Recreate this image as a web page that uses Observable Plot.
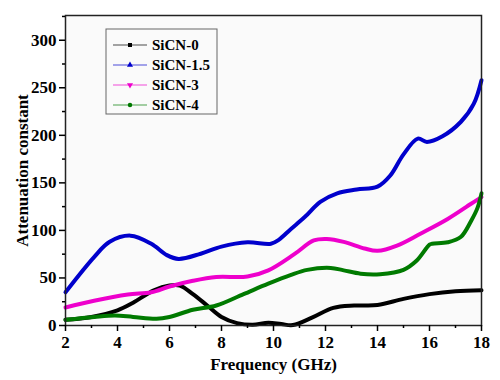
<!DOCTYPE html>
<html><head><meta charset="utf-8">
<script src="https://cdn.jsdelivr.net/npm/d3@7"></script>
<script src="https://cdn.jsdelivr.net/npm/@observablehq/plot@0.6"></script>
<style>
body{margin:0;background:#fff;}
#chart svg{font-family:"Liberation Serif","Times New Roman",serif;font-weight:bold;}
</style>
</head><body><div id="chart"></div>
<script>
const seriesNames = ["SiCN-0","SiCN-1.5","SiCN-3","SiCN-4"];
const seriesColors = ["#000000","#0000cc","#ee00cc","#007a00"];
const seriesSymbols = ["square","triangle","triangle-down","circle"];

const sicn0F = [2,3,4,4.6,5.4,6.0,6.4,6.9,7.45,8.0,8.6,9.2,9.8,10.3,10.75,11.5,12.3,13.1,14.0,15.0,16.0,17.0,18];
const sicn0V = [6,9,16,24,37,42,42,33,21,9,2.5,0.7,2.8,1.5,0.5,8.5,18.5,21,21.5,28,33,36,37];

const sicn15F = [2,3.1,3.7,4.5,5.3,5.9,6.35,7.2,8.0,9.0,9.9,10.2,10.65,11.2,11.8,12.45,13.2,14.0,14.5,15.0,15.55,15.9,16.5,17.2,17.7,18];
const sicn15V = [35,72,88,94.5,86,74,70,75.5,83,87.5,86,90,101,114,130,139,143,146,158,180,196.5,193,199,214,233,258];

const sicn3F = [2,3.1,4.4,5.3,6.0,6.9,7.8,9.0,9.8,10.8,11.55,12.05,12.7,13.5,14.0,14.75,15.65,16.7,17.6,18];
const sicn3V = [19,26,32.5,35,41,47,51,51.5,58,75,89.5,91,88,81,78.5,84,96.5,112,128,135];

const sicn4F = [2,3.1,3.9,4.6,5.5,6.0,6.9,7.8,8.85,9.8,10.65,11.3,12.2,12.7,13.35,14.1,15.0,15.5,16.0,16.1,16.7,17.2,17.6,17.85,18];
const sicn4V = [6,9,10.5,9,7,9,16.5,21,33,44,53,58.5,60.5,58,54.5,54,58.5,68,85,86,87.5,93,110,124,139];

const xMajor = [2,4,6,8,10,12,14,16,18];
const xMinor = [3,5,7,9,11,13,15,17];
const yMajor = [0,50,100,150,200,250,300];
const yMinor = [25,75,125,175,225,275,325];

const allF = [sicn0F, sicn15F, sicn3F, sicn4F];
const allV = [sicn0V, sicn15V, sicn3V, sicn4V];
const data = [];
seriesNames.forEach((s,i)=>allF[i].forEach((f,j)=>data.push({series:s,f,v:allV[i][j]})));

const chart = Plot.plot({
  width:500, height:380,
  marginLeft:65, marginRight:19, marginTop:15, marginBottom:55,
  style:{fontFamily:"Liberation Serif, serif", fontWeight:"bold", fontSize:"16px", background:"transparent", color:"#000"},
  x:{domain:[2,18]},
  y:{domain:[0,326]},
  color:{domain:seriesNames, range:seriesColors},
  marks:[
    Plot.frame({fill:"#fafafa"}),
    Plot.line(data,{x:"f",y:"v",z:"series",stroke:"series",strokeWidth:4,curve:"catmull-rom"}),
    Plot.frame({stroke:"#222",strokeWidth:1.5}),
    Plot.axisX({ticks:xMajor,tickSize:6,tickPadding:4,fontSize:17,fontWeight:"bold",label:"Frequency (GHz)",labelAnchor:"center",labelArrow:"none",labelOffset:44,strokeWidth:1.5}),
    Plot.axisX({ticks:xMinor,tickSize:3,text:null,label:null,strokeWidth:1.5}),
    Plot.axisY({ticks:yMajor,tickSize:6,tickPadding:3,fontSize:17,fontWeight:"bold",label:"Attenuation constant",labelAnchor:"center",labelArrow:"none",labelOffset:50,strokeWidth:1.5}),
    Plot.axisY({ticks:yMinor.filter(d=>d<326),tickSize:3,text:null,label:null,strokeWidth:1.5})
  ]
});
document.getElementById("chart").appendChild(chart);

// legend inside plot
const svg = d3.select(chart);
const lg = svg.append("g").attr("text-anchor","start");
lg.append("rect").attr("x",106).attr("y",29).attr("width",111).attr("height",85)
  .attr("fill","#fafafa").attr("stroke","#666").attr("stroke-width",1);
const sym = {square:d3.symbolSquare, triangle:d3.symbolTriangle, "triangle-down":d3.symbolTriangle, circle:d3.symbolCircle};
seriesNames.forEach((s,i)=>{
  const y = 45 + i*20;
  lg.append("line").attr("x1",113).attr("x2",147).attr("y1",y).attr("y2",y)
    .attr("stroke",seriesColors[i]).attr("stroke-width",1).attr("opacity",0.7);
  lg.append("path").attr("d",d3.symbol(sym[seriesSymbols[i]],16)())
    .attr("transform",`translate(130,${y})${seriesSymbols[i]==="triangle-down"?" rotate(180)":""}`)
    .attr("fill",seriesColors[i]);
  lg.append("text").attr("x",152).attr("y",y).attr("dy","0.35em").attr("text-anchor","start")
    .attr("font-size",15).attr("font-weight","bold").attr("fill","#000").text(s);
});
</script>
</body></html>
